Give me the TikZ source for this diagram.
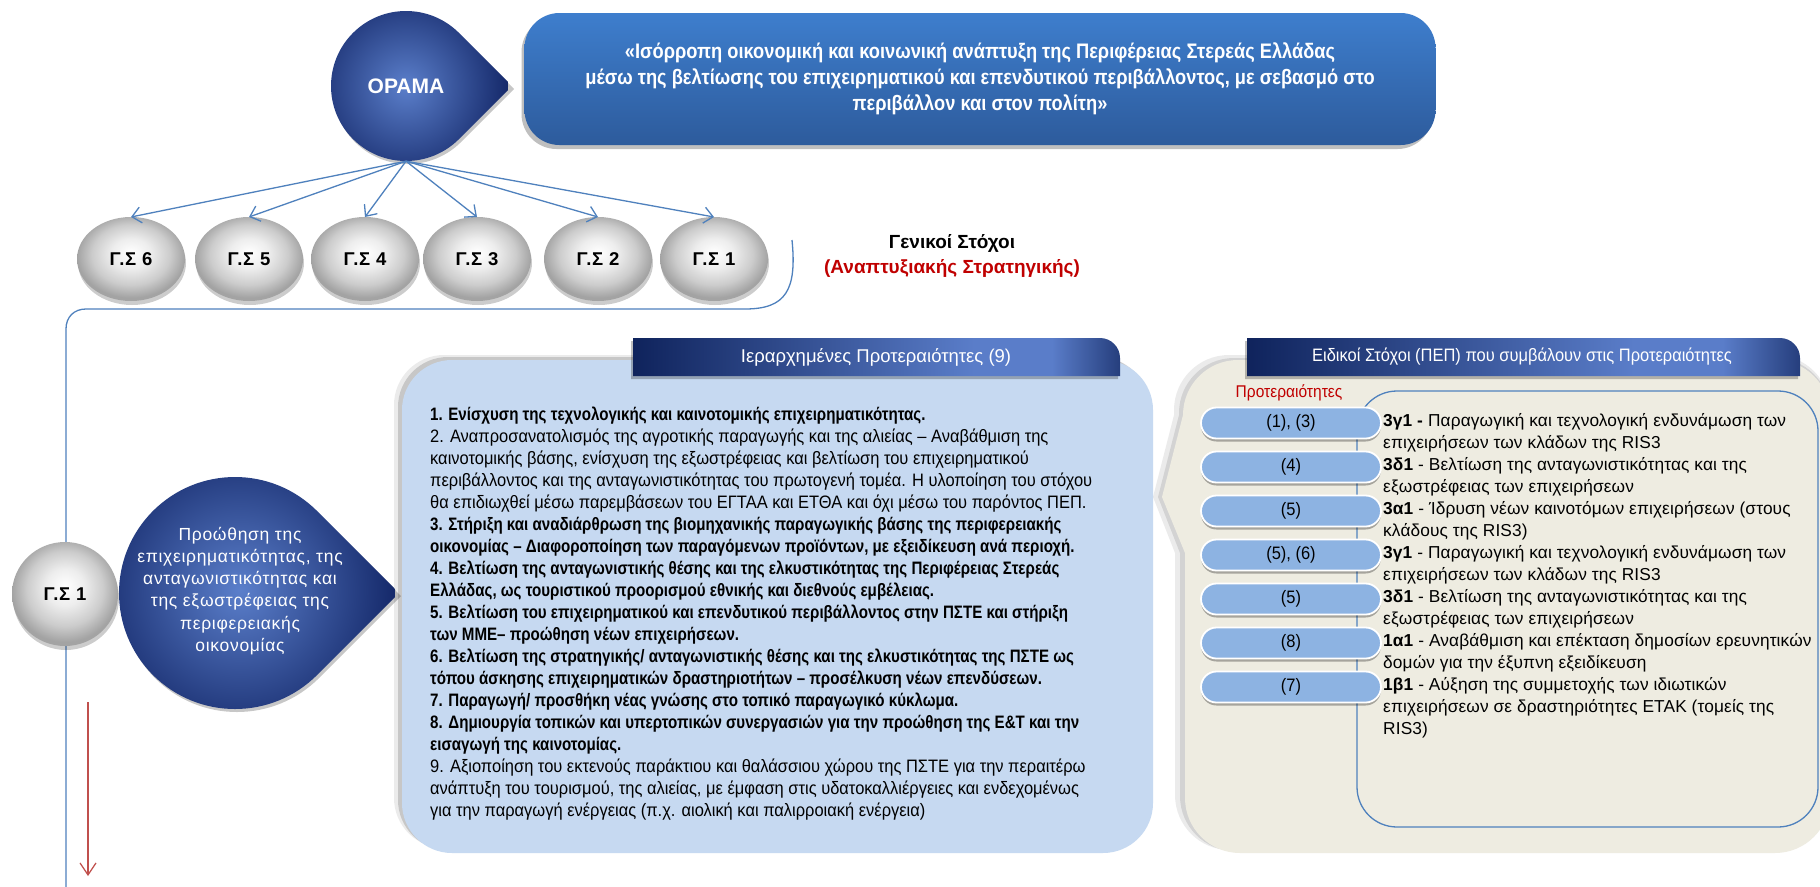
\documentclass[tikz,border=0pt]{standalone}
\usepackage{fontspec}
\setmainfont{Liberation Sans}[FakeStretch=0.915,BoldFeatures={FakeStretch=0.84}]
\newfontfamily\spacedfont{Liberation Sans}[LetterSpace=4]
\newfontfamily\objfont{Liberation Sans}[LetterSpace=0.7]
\newfontfamily\widefont{Liberation Sans}
\newfontfamily\visionfont{Liberation Sans}[FakeStretch=0.87]
\usetikzlibrary{arrows.meta,shadows,shapes.geometric}
\definecolor{lineblue}{HTML}{4F81BD}
\definecolor{navy}{HTML}{15296A}
\definecolor{midblue}{HTML}{5B7FCB}
\definecolor{tabnavy}{HTML}{0F235C}
\definecolor{tablight}{HTML}{5A7DC9}
\definecolor{boxblue}{HTML}{C6D9F1}
\definecolor{beige}{HTML}{EEECE1}
\definecolor{pillblue}{HTML}{8DB3E2}
\definecolor{darkred}{HTML}{C00000}
\definecolor{arrowred}{HTML}{C0504D}
\definecolor{toptop}{HTML}{3E7ECD}
\definecolor{topbot}{HTML}{2D5B9C}
\pgfdeclareradialshading{sphere}{\pgfpoint{0bp}{4bp}}{color(0bp)=(white); color(9bp)=(white!93!black); color(18bp)=(black!20); color(25bp)=(black!36); color(50bp)=(black!36)}
\pgfdeclarehorizontalshading{tabshade}{100bp}{color(0bp)=(tabnavy); color(25bp)=(tabnavy); color(60bp)=(tablight); color(68bp)=(tablight); color(75bp)=(tabnavy!70!tablight); color(100bp)=(tabnavy)}
\tikzset{
  arr/.style={draw=lineblue, line width=1.3pt, -{Straight Barb[length=9pt,width=16pt]}},
  redarr/.style={draw=arrowred, line width=1.2pt, -{Straight Barb[length=12pt,width=16pt]}},
  gsball/.style={ellipse, minimum width=108pt, minimum height=84pt, inner sep=0pt, outer sep=0pt, shading=sphere,
    drop shadow={shadow xshift=1pt, shadow yshift=-4pt, opacity=0.2, fill=black},
    font=\spacedfont\bfseries\fontsize{18.5}{22}\selectfont},
  visionbox/.style={rectangle, rounded corners=35pt, top color=toptop, bottom color=topbot, inner sep=0pt,
    drop shadow={shadow xshift=-3pt, shadow yshift=-4pt, opacity=0.25, fill=black},
    text=white, align=center, font=\visionfont\bfseries\fontsize{21}{26}\selectfont},
  panelbox/.style={rectangle, rounded corners=50pt, fill=boxblue, inner sep=0pt,
    drop shadow={shadow xshift=-8pt, shadow yshift=5pt, opacity=0.08, fill=black},
    drop shadow={shadow xshift=-4pt, shadow yshift=3pt, opacity=0.15, fill=black}},
  tabtext/.style={text=white, inner sep=0pt, font=\fontsize{18}{20}\selectfont},
  pill/.style={rectangle, rounded corners=15.5pt, minimum width=180pt, minimum height=31pt, inner sep=0pt,
    fill=pillblue, draw=white, line width=1.8pt,
    drop shadow={shadow xshift=0pt, shadow yshift=-3pt, opacity=0.3, fill=black},
    font=\fontsize{18}{20}\selectfont},
  plaintext/.style={inner sep=0pt, align=left, anchor=north west},
}
\begin{document}
\begin{tikzpicture}[x=1pt,y=-1pt]
\useasboundingbox (0,0) rectangle (1820,886);
\fill[white] (0,0) rectangle (1820,886);

% ---------- vision box ----------
\node[visionbox, minimum width=911pt, minimum height=132pt] (vision) at (980,79)
 {«Ισόρροπη οικονομική και κοινωνική ανάπτυξη της Περιφέρειας Στερεάς Ελλάδας\\
  μέσω της βελτίωσης του επιχειρηματικού και επενδυτικού περιβάλλοντος, με σεβασμό στο\\
  περιβάλλον και στον πολίτη»};

% ---------- OPAMA teardrop ----------
\fill[black, opacity=0.22] ([xshift=2pt,yshift=-3pt]512,86) -- ([xshift=2pt,yshift=-3pt]459.03,32.97)
   arc[start angle=-45, end angle=-315, radius=75] -- cycle;
\begin{scope}
  \clip (512,86) -- (459.03,32.97) arc[start angle=-45, end angle=-315, radius=75] -- cycle;
  \shade[inner color=midblue, outer color=navy] (406,86) circle (102);
\end{scope}
\node[circle, minimum size=150pt, inner sep=0pt, text=white, font=\widefont\bfseries\fontsize{21}{24}\selectfont] (opama) at (406,86) {ΟΡΑΜΑ};

% ---------- general goals ----------
\node[gsball] (gs6) at (131,259) {Γ.Σ 6};
\node[gsball] (gs5) at (249,259) {Γ.Σ 5};
\node[gsball] (gs4) at (365,259) {Γ.Σ 4};
\node[gsball] (gs3) at (477,259) {Γ.Σ 3};
\node[gsball] (gs2) at (598,259) {Γ.Σ 2};
\node[gsball] (gs1) at (714,259) {Γ.Σ 1};
\foreach \g in {gs6,gs5,gs4,gs3,gs2,gs1}{\draw[arr] (opama.south) -- (\g.north);}

\node[inner sep=0pt, font=\widefont\bfseries\fontsize{19}{20}\selectfont] (gen) at (952,243) {Γενικοί Στόχοι};
\node[inner sep=0pt, text=darkred, font=\widefont\bfseries\fontsize{19}{20}\selectfont] (genr) at (952,268) {(Αναπτυξιακής Στρατηγικής)};

% ---------- bracket line ----------
\coordinate (brA) at (792,240);
\coordinate (brB) at (745,309);
\coordinate (brC) at (86,309);
\coordinate (brD) at (66,329);
\coordinate (brE) at (66,890);
\draw[lineblue, line width=1.3pt] (brA) .. controls (797,290) and (786,309) .. (brB) -- (brC)
   .. controls (74,309) and (66,317) .. (brD) -- (brE);

\node[gsball, minimum width=106pt, minimum height=104pt] (gsone) at (65,594) {Γ.Σ 1};

% ---------- priorities box ----------
\node[panelbox, minimum width=751pt, minimum height=493pt] (prioBox) at (777.5,606.5) {};
\path[shading=tabshade, preaction={fill=black, opacity=0.25, transform canvas={xshift=-2pt,yshift=-3pt}}]
  (633,376) -- (633,338) -- (1100,338) .. controls (1111,338) and (1120,347) .. (1120,358) -- (1120,376) -- cycle;
\node[tabtext, font=\widefont\fontsize{18.5}{20}\selectfont] (tab1) at (876,357) {Ιεραρχημένες Προτεραιότητες (9)};

\node[plaintext, font=\fontsize{18}{22}\selectfont] (prio) at (430,404.6) {\strut
\textbf{1. Ενίσχυση της τεχνολογικής και καινοτομικής επιχειρηματικότητας.}\\
2. Αναπροσανατολισμός της αγροτικής παραγωγής και της αλιείας – Αναβάθμιση της\\
καινοτομικής βάσης, ενίσχυση της εξωστρέφειας και βελτίωση του επιχειρηματικού\\
περιβάλλοντος και της ανταγωνιστικότητας του πρωτογενή τομέα. Η υλοποίηση του στόχου\\
θα επιδιωχθεί μέσω παρεμβάσεων του ΕΓΤΑΑ και ΕΤΘΑ και όχι μέσω του παρόντος ΠΕΠ.\\
\textbf{3. Στήριξη και αναδιάρθρωση της βιομηχανικής παραγωγικής βάσης της περιφερειακής}\\
\textbf{οικονομίας – Διαφοροποίηση των παραγόμενων προϊόντων, με εξειδίκευση ανά περιοχή.}\\
\textbf{4. Βελτίωση της ανταγωνιστικής θέσης και της ελκυστικότητας της Περιφέρειας Στερεάς}\\
\textbf{Ελλάδας, ως τουριστικού προορισμού εθνικής και διεθνούς εμβέλειας.}\\
\textbf{5. Βελτίωση του επιχειρηματικού και επενδυτικού περιβάλλοντος στην ΠΣΤΕ και στήριξη}\\
\textbf{των ΜΜΕ– προώθηση νέων επιχειρήσεων.}\\
\textbf{6. Βελτίωση της στρατηγικής/ ανταγωνιστικής θέσης και της ελκυστικότητας της ΠΣΤΕ ως}\\
\textbf{τόπου άσκησης επιχειρηματικών δραστηριοτήτων – προσέλκυση νέων επενδύσεων.}\\
\textbf{7. Παραγωγή/ προσθήκη νέας γνώσης στο τοπικό παραγωγικό κύκλωμα.}\\
\textbf{8. Δημιουργία τοπικών και υπερτοπικών συνεργασιών για την προώθηση της Ε\&Τ και την}\\
\textbf{εισαγωγή της καινοτομίας.}\\
9. Αξιοποίηση του εκτενούς παράκτιου και θαλάσσιου χώρου της ΠΣΤΕ για την περαιτέρω\\
ανάπτυξη του τουρισμού, της αλιείας, με έμφαση στις υδατοκαλλιέργειες και ενδεχομένως\\
για την παραγωγή ενέργειας (π.χ. αιολική και παλιρροιακή ενέργεια)};

% ---------- goal teardrop ----------
\fill[black, opacity=0.22] ([xshift=2pt,yshift=-3pt]399,593) -- ([xshift=2pt,yshift=-3pt]317.02,510.98)
   arc[start angle=-45, end angle=-315, radius=116] -- cycle;
\begin{scope}
  \clip (399,593) -- (317.02,510.98) arc[start angle=-45, end angle=-315, radius=116] -- cycle;
  \shade[inner color=midblue, outer color=navy] (240,590) circle (155);
\end{scope}
\node[inner sep=0pt, anchor=north, align=center, text=white, font=\spacedfont\fontsize{17.5}{22.2}\selectfont] (goal) at (240,524.5)
 {\strut Προώθηση της\\ επιχειρηματικότητας, της\\ ανταγωνιστικότητας και\\ της εξωστρέφειας της\\ περιφερειακής\\ οικονομίας};

% ---------- specific objectives panel ----------
\fill[black, opacity=0.08] (1175,600) -- (1175,553) -- (1153,497) -- (1174,415) [rounded corners=55pt] -- (1174,355) -- (1830,355) -- (1830,850) -- (1175,850) -- cycle;
\fill[black, opacity=0.1] (1180,600) -- (1180,553) -- (1158,497) -- (1179,415) [rounded corners=55pt] -- (1179,358) -- (1830,358) -- (1830,851) -- (1180,851) -- cycle;
\fill[beige] (1185,600) -- (1185,553) -- (1162,497) -- (1183,415) [rounded corners=55pt] -- (1183,360) -- (1830,360) -- (1830,853) -- (1185,853) -- cycle;
\path[shading=tabshade, preaction={fill=black, opacity=0.25, transform canvas={xshift=-2pt,yshift=-3pt}}]
  (1247,376) -- (1247,338) -- (1780,338) .. controls (1791,338) and (1800,347) .. (1800,358) -- (1800,376) -- cycle;
\node[tabtext] (tab2) at (1522,357) {Ειδικοί Στόχοι (ΠΕΠ) που συμβάλουν στις Προτεραιότητες};

\node[inner sep=0pt, text=darkred, font=\fontsize{17}{20}\selectfont] (prlabel) at (1289,393) {Προτεραιότητες};

\node[rectangle, rounded corners=40pt, draw=lineblue, line width=1.3pt, minimum width=461pt, minimum height=436pt, inner sep=0pt] (objBox) at (1587.5,609) {};

\node[pill] (p1) at (1291,423) {(1), (3)};
\node[pill] (p2) at (1291,467) {(4)};
\node[pill] (p3) at (1291,511) {(5)};
\node[pill] (p4) at (1291,555) {(5), (6)};
\node[pill] (p5) at (1291,599) {(5)};
\node[pill] (p6) at (1291,643) {(8)};
\node[pill] (p7) at (1291,687) {(7)};

\node[plaintext, font=\objfont\fontsize{17.3}{22}\selectfont] (objtext) at (1383,410.6) {\strut
\textbf{3γ1 -} Παραγωγική και τεχνολογική ενδυνάμωση των\\
επιχειρήσεων των κλάδων της RIS3\\
\textbf{3δ1} - Βελτίωση της ανταγωνιστικότητας και της\\
εξωστρέφειας των επιχειρήσεων\\
\textbf{3α1} - Ίδρυση νέων καινοτόμων επιχειρήσεων (στους\\
κλάδους της RIS3)\\
\textbf{3γ1} - Παραγωγική και τεχνολογική ενδυνάμωση των\\
επιχειρήσεων των κλάδων της RIS3\\
\textbf{3δ1} - Βελτίωση της ανταγωνιστικότητας και της\\
εξωστρέφειας των επιχειρήσεων\\
\textbf{1α1} - Αναβάθμιση και επέκταση δημοσίων ερευνητικών\\
δομών για την έξυπνη εξειδίκευση\\
\textbf{1β1} - Αύξηση της συμμετοχής των ιδιωτικών\\
επιχειρήσεων σε δραστηριότητες ΕΤΑΚ (τομείς της\\
RIS3)};

% ---------- red arrow ----------
\coordinate (raA) at (88,702);
\coordinate (raB) at (88,876);
\draw[redarr] (raA) -- (raB);
\end{tikzpicture}
\end{document}
